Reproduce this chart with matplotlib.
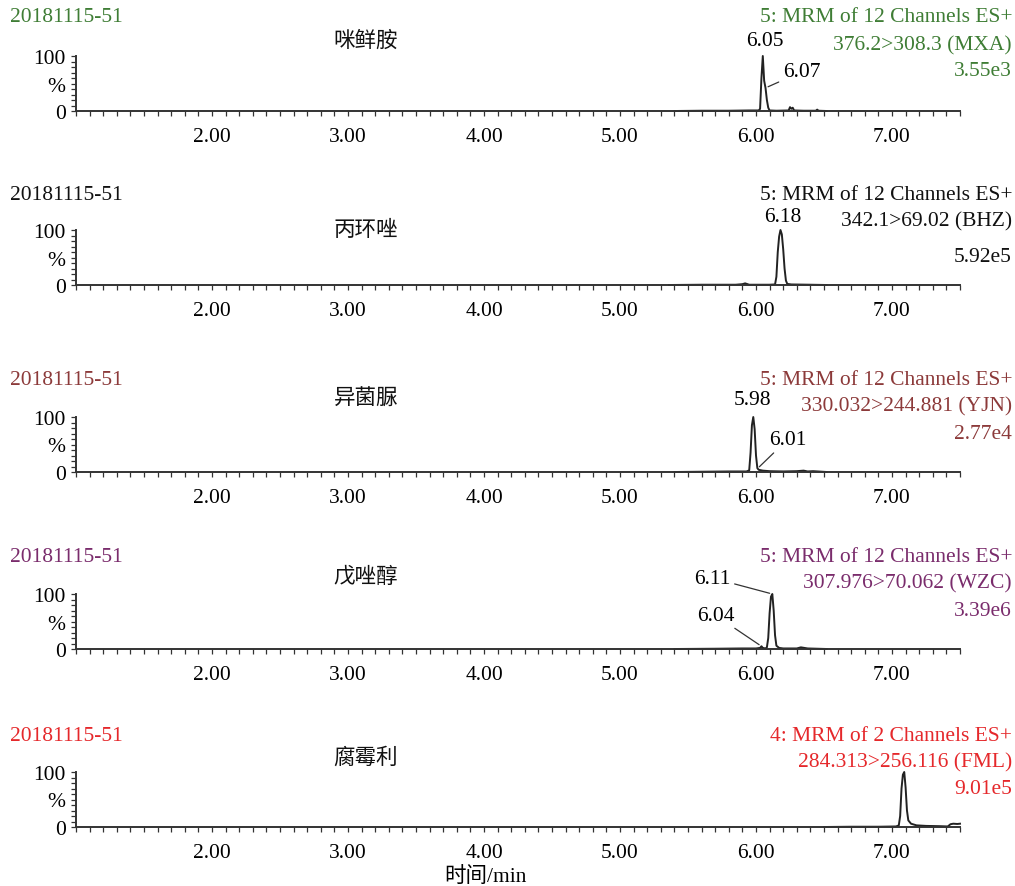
#!/usr/bin/env python3
"""
MRM chromatograms of five fungicides (sample 20181115-51).
"""

import matplotlib
matplotlib.use('Agg')
import matplotlib.pyplot as plt
from matplotlib.ticker import MultipleLocator, FixedLocator, FixedFormatter

plt.rcParams['font.family'] = ['Liberation Serif', 'Noto Sans CJK SC']
plt.rcParams['font.size'] = 15.5

W, H = 1015, 887
FS = 15.5

sample_id = '20181115-51'
compounds = ['咪鲜胺', '丙环唑', '异菌脲', '戊唑醇', '腐霉利']
channel_lines = [
    '5: MRM of 12 Channels ES+',
    '5: MRM of 12 Channels ES+',
    '5: MRM of 12 Channels ES+',
    '5: MRM of 12 Channels ES+',
    '4: MRM of 2 Channels ES+',
]
transitions = [
    '376.2>308.3 (MXA)',
    '342.1>69.02 (BHZ)',
    '330.032>244.881 (YJN)',
    '307.976>70.062 (WZC)',
    '284.313>256.116 (FML)',
]
max_intensity = ['3.55e3', '5.92e5', '2.77e4', '3.39e6', '9.01e5']
header_colors = ['#3f7d35', '#111111', '#8c3a3a', '#7a2c6c', '#e5282b']

# retention time (min) and relative intensity (%)
mxa_t = [5.40, 5.60, 5.80, 5.95, 6.02, 6.03, 6.04, 6.05, 6.06, 6.07, 6.08, 6.09, 6.10,
         6.15, 6.24, 6.25, 6.26, 6.27, 6.28, 6.35, 6.44, 6.45, 6.46, 6.52]
mxa_i = [0, 0.5, 0.5, 1, 1, 4, 60, 100, 55, 42, 20, 6, 1,
         0.5, 1, 7, 4, 6, 1, 0.5, 0.5, 2.5, 0.5, 0]

bhz_t = [5.36, 5.60, 5.85, 5.90, 5.92, 5.95, 6.10, 6.14, 6.15, 6.16, 6.17, 6.18, 6.19,
         6.20, 6.21, 6.22, 6.23, 6.26, 6.40, 6.52]
bhz_i = [0, 0.5, 0.5, 1.5, 3, 0.5, 0.5, 1, 15, 60, 88, 100, 92,
         65, 30, 8, 2, 1, 0.5, 0]

yjn_t = [5.40, 5.60, 5.80, 5.93, 5.95, 5.96, 5.97, 5.98, 5.99, 6.00, 6.01, 6.02, 6.05,
         6.10, 6.20, 6.30, 6.35, 6.38, 6.42, 6.52]
yjn_i = [0, 0.5, 1, 1, 3, 35, 85, 100, 78, 30, 7, 4, 2.5,
         1.5, 1, 1.5, 2.5, 1, 1.5, 0]

wzc_t = [5.40, 5.70, 5.90, 6.00, 6.03, 6.04, 6.05, 6.07, 6.08, 6.09, 6.10, 6.11, 6.12,
         6.13, 6.14, 6.15, 6.17, 6.20, 6.30, 6.33, 6.38, 6.52]
wzc_i = [0, 0.5, 1, 1, 2, 5, 2, 1, 3, 20, 65, 95, 100,
         70, 25, 6, 2, 1, 1, 3, 1, 0]

fml_t = [6.50, 6.70, 6.90, 7.03, 7.05, 7.06, 7.07, 7.08, 7.09, 7.10, 7.11, 7.12, 7.14,
         7.18, 7.25, 7.35, 7.41, 7.43, 7.45, 7.48, 7.50]
fml_i = [0, 0.5, 0.5, 1, 3, 20, 70, 95, 100, 72, 30, 12, 6,
         3, 2, 1.5, 1, 5, 6, 5.5, 6]

traces = [(mxa_t, mxa_i), (bhz_t, bhz_i), (yjn_t, yjn_i), (wzc_t, wzc_i), (fml_t, fml_i)]

# peak labels: (text, time, intensity) per panel
peak_labels = [
    [('6.05', 6.05, 100), ('6.07', 6.07, 42)],
    [('6.18', 6.18, 100)],
    [('5.98', 5.98, 100), ('6.01', 6.01, 6)],
    [('6.11', 6.12, 100), ('6.04', 6.04, 5)],
    [],
]

# layout in pixels: axis baseline, name y, header y (three lines)
baselines = [112, 286, 473, 650, 828]
name_y = [42, 231, 400, 578, 758]
header_y = [(18, 46, 72), (195, 222, 258), (381, 407, 435), (558, 584, 612), (737, 763, 790)]
# label offsets in pixels (dx, dy) and whether a leader line is drawn
label_offsets = [
    [((2, 15), False), ((36, 16), True)],
    [((2, 14), False)],
    [((-1, 17), False), ((30, 29), True)],
    [((-60, 16), True), ((-46, 31), True)],
    [],
]


def fx(px):
    return px / W


def fy(py):
    return 1 - py / H


def style_axis(ax):
    ax.set_xlim(1.0, 7.5)
    ax.set_ylim(0, 100)
    for side in ['top', 'right']:
        ax.spines[side].set_visible(False)
    for side in ['left', 'bottom']:
        ax.spines[side].set_color('#333333')
        ax.spines[side].set_linewidth(1.4)
    ax.patch.set_alpha(0)

    ax.xaxis.set_major_locator(FixedLocator([2, 3, 4, 5, 6, 7]))
    ax.xaxis.set_major_formatter(FixedFormatter(['2.00', '3.00', '4.00', '5.00', '6.00', '7.00']))
    ax.xaxis.set_minor_locator(MultipleLocator(0.1))
    ax.yaxis.set_major_locator(FixedLocator([0, 50, 100]))
    ax.yaxis.set_major_formatter(FixedFormatter(['0', '%', '100']))
    ax.yaxis.set_minor_locator(MultipleLocator(10))

    ax.tick_params(axis='both', which='both', direction='out', length=3.5,
                   width=0.9, color='#333333', labelsize=FS)
    ax.tick_params(axis='x', pad=8)
    ax.tick_params(axis='y', pad=4)


def main():
    fig = plt.figure(figsize=(W / 100, H / 100), dpi=100)

    for k in range(5):
        b = baselines[k]
        ax = fig.add_axes([fx(76), fy(b), fx(884), 55 / H])
        style_axis(ax)

        t, inten = traces[k]
        ax.plot(t, inten, color='#222222', lw=1.4, clip_on=False)

        for (txt, pt, pi), ((dx, dy), leader) in zip(peak_labels[k], label_offsets[k]):
            props = dict(arrowstyle='-', color='#333333', lw=0.9, shrinkA=1, shrinkB=2) if leader else None
            ax.annotate(txt, xy=(pt, pi), xytext=(dx, dy), textcoords='offset pixels',
                        ha='center', va='center', fontsize=FS, arrowprops=props,
                        annotation_clip=False)

        col = header_colors[k]
        y1, y2, y3 = header_y[k]
        fig.text(fx(10), fy(y1), sample_id, color=col, ha='left', va='center', fontsize=FS)
        fig.text(fx(1012), fy(y1), channel_lines[k], color=col, ha='right', va='center', fontsize=FS)
        fig.text(fx(1012), fy(y2), transitions[k], color=col, ha='right', va='center', fontsize=FS)
        fig.text(fx(1012), fy(y3), max_intensity[k], color=col, ha='right', va='center', fontsize=FS)
        fig.text(fx(366), fy(name_y[k]), compounds[k], color='#111111', ha='center', va='center',
                 fontsize=FS)

    fig.text(fx(485), fy(877), '时间/min', ha='center', va='center', fontsize=FS)

    fig.savefig('out.png', dpi=100)
    plt.close(fig)


if __name__ == "__main__":
    main()
